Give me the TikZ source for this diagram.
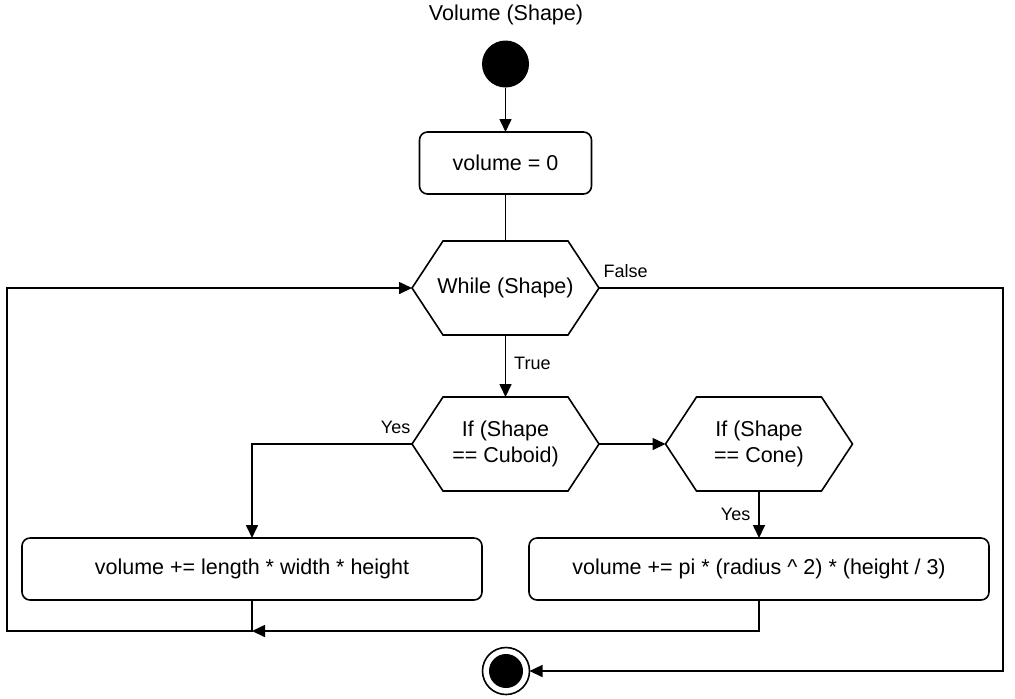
\documentclass[tikz,border=0pt]{standalone}
\usepackage{fontspec}
\setmainfont{Liberation Sans}
\usetikzlibrary{arrows.meta}
\tikzset{
  act/.style={draw, rounded corners=4pt, minimum height=31pt, align=center},
  hex/.style={minimum width=93.5pt, minimum height=47pt, align=center},
  lbl/.style={font=\fontsize{9}{11}\selectfont},
}
\begin{document}
\begin{tikzpicture}[x=0.5pt, y=-0.5pt, line width=0.8pt, >={Triangle[length=6.5pt,width=6pt]},
  font=\fontsize{10.75}{13}\selectfont, outer sep=0pt]
\useasboundingbox (0,0) rectangle (1015,698);

\node (title) at (506,15) {Volume (Shape)};
\node[circle, fill, minimum size=23.5pt, inner sep=0pt] (start) at (505.5,64) {};
\node[act, minimum width=86pt] (init) at (505.5,163) {volume = 0};
\node[hex] (while) at (505.5,288) {While (Shape)};
\node[hex] (cuboid) at (505.5,444) {If (Shape\\== Cuboid)};
\node[hex] (cone) at (759,444) {If (Shape\\== Cone)};
\node[act, minimum width=230pt] (boxvol) at (252,569) {volume += length * width * height};
\node[act, minimum width=230pt] (conevol) at (759,569) {volume += pi * (radius \^{} 2) * (height / 3)};
\node[circle, draw, minimum size=23.5pt, inner sep=0pt] (stop) at (506,671) {};
\fill (stop.center) circle (8.5pt);

% hexagon outlines
\foreach \n in {while,cuboid,cone}
\draw (\n.west) -- ([xshift=15.5pt]\n.north west) -- ([xshift=-15.5pt]\n.north east)
  -- (\n.east) -- ([xshift=-15.5pt]\n.south east) -- ([xshift=15.5pt]\n.south west) -- cycle;

\coordinate (left) at (7,631);
\coordinate (join) at (252,631);
\coordinate (right) at (1003,288);

\draw[->] (start) -- (init);
\draw (init) -- (while);
\draw[->] (while) -- node[lbl, right, xshift=1pt, yshift=1.5pt] {True} (cuboid);
\draw[->] (while.east) -- node[lbl, above right, pos=0, xshift=-1pt, yshift=2pt] {False} (right) |- (stop);
\draw[->] (cuboid) -- (cone);
\draw[->] (cuboid.west) -| node[lbl, above left, pos=0, xshift=2.5pt, yshift=2pt] {Yes} (boxvol.north);
\draw[->] (cone) -- node[lbl, left, xshift=-1pt] {Yes} (conevol);
\draw[->] (conevol.south) |- (join);
\draw[->] (boxvol.south) -- (join) -- (left) |- (while.west);

\end{tikzpicture}
\end{document}
